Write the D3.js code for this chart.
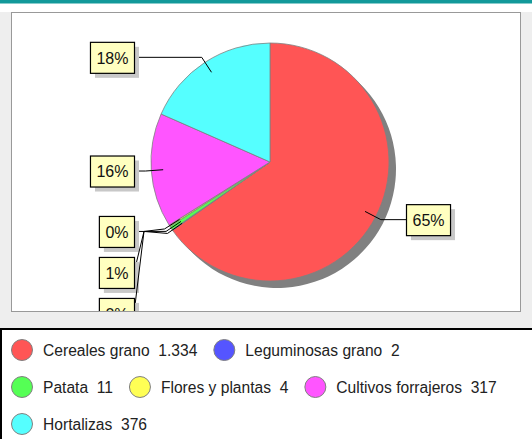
<!DOCTYPE html>
<html>
<head>
<meta charset="utf-8">
<script src="https://cdn.jsdelivr.net/npm/d3@7"></script>
<style>
  body { margin: 0; padding: 0; background: #eeeeee; }
  svg { display: block; font-family: "Liberation Sans", Arial, sans-serif; }
  text { white-space: pre; }
</style>
</head>
<body>
<div id="chart"></div>
<script>
var categories = ["Cereales grano", "Leguminosas grano", "Patata", "Flores y plantas", "Cultivos forrajeros", "Hortalizas"];
var values = [1334, 2, 11, 4, 317, 376];
var valueLabels = ["1.334", "2", "11", "4", "317", "376"];
var colors = ["#ff5555", "#5555ff", "#55ff55", "#ffff55", "#ff55ff", "#55ffff"];

var width = 532,
	height = 439,
	panel = {x: 11.5, y: 12.5, w: 509, h: 299},
	center = {x: 270, y: 162},
	radius = 119;

var svg = d3.select("#chart")
	.append("svg")
	.attr("width", width)
	.attr("height", height);

// page background
svg.append("rect").attr("width", width).attr("height", height).attr("fill", "#eeeeee");
svg.append("rect").attr("y", 3).attr("width", width).attr("height", 9).attr("fill", "#ffffff");
svg.append("rect").attr("width", width).attr("height", 3.5).attr("fill", "#12999a");

// plot panel
svg.append("rect")
	.attr("x", panel.x).attr("y", panel.y)
	.attr("width", panel.w).attr("height", panel.h)
	.attr("fill", "#ffffff")
	.attr("stroke", "#999999");

svg.append("clipPath").attr("id", "panelClip")
	.append("rect")
	.attr("x", panel.x).attr("y", panel.y)
	.attr("width", panel.w).attr("height", panel.h - 0.5);

var plot = svg.append("g").attr("clip-path", "url(#panelClip)");

var data = categories.map(function(c, i) {
	return {name: c, value: values[i], label: valueLabels[i], color: colors[i]};
});
var total = d3.sum(values);

var arcs = d3.pie().sort(null).value(function(d) { return d.value; })(data);
var arc = d3.arc().innerRadius(0).outerRadius(radius);

// shadow
plot.append("g")
	.attr("transform", "translate(" + (center.x + 7) + "," + (center.y + 7) + ")")
	.selectAll("path")
	.data(arcs)
	.enter().append("path")
	.attr("d", arc)
	.attr("fill", "#808080");

plot.append("g")
	.attr("transform", "translate(" + center.x + "," + center.y + ")")
	.selectAll("path")
	.data(arcs)
	.enter().append("path")
	.attr("d", arc)
	.attr("fill", function(d) { return d.data.color; })
	.attr("stroke", "#808080")
	.attr("stroke-width", 0.8);

function polar(angle, rr) {
	return [center.x + rr * Math.sin(angle), center.y - rr * Math.cos(angle)];
}

// labels
var stackStart = null, stackIndex = 0;
var labelGroup = plot.append("g");

arcs.forEach(function(a) {
	var mid = (a.startAngle + a.endAngle) / 2;
	var pct = Math.round(a.data.value / total * 100) + "%";
	var right = Math.sin(mid) >= 0;
	var edge = right ? center.x + radius + 17 : center.x - radius - 17;
	var p0 = polar(mid, radius * 0.9);
	var p1 = polar(mid, radius * 1.05);
	var pts, boxY;

	if (a.data.value / total < 0.01) {
		if (stackStart === null) stackStart = p1[1] - 2;
		boxY = stackStart + stackIndex * 41;
		stackIndex++;
		pts = [p0, p1, [edge + 10, stackStart], [edge, boxY]];
	} else {
		boxY = p1[1];
		pts = [p0, p1, [edge, p1[1]]];
	}

	labelGroup.append("path")
		.attr("d", d3.line()(pts))
		.attr("fill", "none")
		.attr("stroke", "#000000")
		.attr("stroke-width", 1);

	var g = labelGroup.append("g");
	var txt = g.append("text")
		.attr("font-size", 16)
		.attr("fill", "#111111")
		.attr("dy", "0.36em")
		.text(pct);
	var tw = txt.node().getComputedTextLength();
	var bw = tw + 12, bh = 31;
	var bx = right ? edge : edge - bw;
	var by = boxY - bh / 2;

	g.insert("rect", "text")
		.attr("x", bx + 5).attr("y", by + 5)
		.attr("width", bw).attr("height", bh)
		.attr("fill", "#c8c8c8");
	g.insert("rect", "text")
		.attr("x", bx + 0.5).attr("y", by + 0.5)
		.attr("width", bw).attr("height", bh)
		.attr("fill", "#ffffc0")
		.attr("stroke", "#000000")
		.attr("stroke-width", 1.2);
	txt.attr("x", bx + 6.5).attr("y", boxY + 0.5);
});

// legend
svg.append("rect")
	.attr("x", 1).attr("y", 329)
	.attr("width", width + 10).attr("height", 120)
	.attr("fill", "#ffffff")
	.attr("stroke", "#000000")
	.attr("stroke-width", 2);

var legend = svg.append("g");
var lx = 11, row = 0, rowY = 350, rowGap = 37, maxRight = 505;

data.forEach(function(d) {
	var item = legend.append("g");
	var t = item.append("text")
		.attr("font-size", 15.6)
		.attr("fill", "#222222")
		.attr("dy", "0.36em")
		.text(d.name + "  " + d.label);
	var tw = t.node().getComputedTextLength();
	if (lx + 32 + tw > maxRight) {
		row++;
		lx = 11;
	}
	var y = rowY + row * rowGap;
	item.insert("circle", "text")
		.attr("cx", lx + 11).attr("cy", y)
		.attr("r", 10.5)
		.attr("fill", d.color)
		.attr("stroke", "#808080")
		.attr("stroke-width", 1);
	t.attr("x", lx + 32).attr("y", y);
	lx = lx + 32 + tw + 16;
});
</script>
</body>
</html>
